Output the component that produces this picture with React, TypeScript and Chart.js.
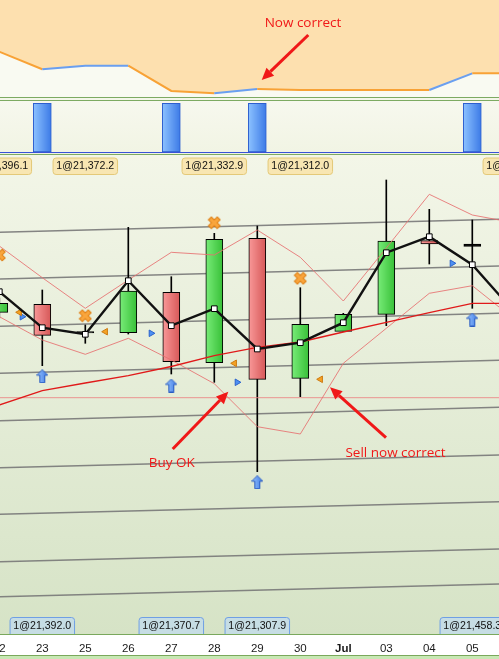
import React, { useEffect, useRef } from "react";
import { Chart, registerables } from "chart.js";
Chart.register(...registerables);

// ---------- data ----------
const dateLabels = ["22", "23", "25", "26", "27", "28", "29", "30", "Jul", "03", "04", "05", "06"];

// upper indicator pane
const topIndicator = [46.7, 28.6, 32.3, 32.3, 6.2, 3.8, 8.2, 7.2, 7.2, 7.2, 7.2, 24.4, 24.4];
const topRising = [false, true, true, false, false, true, false, false, false, false, true, false];

// position pane
const positionSize = [0, 1, 0, 0, 1, 0, 1, 0, 0, 0, 0, 1, 0];

// price bars
const opens = [21421.35, 21425.35, 21411.75, 21411.15, 21431.35, 21396.15, 21458.35, 21388.35, 21411.85, 21420.35, 21457.15, 21455.5];
const highs = [21428.5, 21432.5, 21415.0, 21463.85, 21439.15, 21460.85, 21464.5, 21433.65, 21420.85, 21487.5, 21472.85, 21467.5];
const lows = [21418.5, 21394.65, 21405.85, 21410.5, 21390.5, 21386.35, 21341.65, 21379.15, 21411.85, 21414.65, 21445.5, 21423.35];
const closes = [21425.85, 21409.85, 21411.0, 21432.0, 21396.65, 21457.85, 21387.85, 21415.35, 21420.35, 21457.0, 21455.5, 21454.3];

const closeLine = [21431.65, 21413.65, 21410.35, 21437.15, 21414.65, 21423.15, 21403.0, 21406.15, 21416.15, 21451.15, 21459.15, 21445.15, 21421.0];
const movingAverage = [21375.0, 21382.15, 21386.0, 21389.65, 21394.25, 21399.65, 21403.85, 21406.5, 21411.5, 21416.35, 21421.15, 21425.85, 21425.85];
const upperBand = [21454.5, 21438.65, 21423.35, 21437.5, 21451.35, 21450.0, 21462.5, 21448.85, 21427.0, 21453.5, 21480.35, 21470.0, 21466.0];
const lowerBand = [21419.15, 21407.5, 21400.35, 21408.35, 21397.5, 21385.65, 21364.15, 21360.5, 21395.85, 21413.35, 21430.85, 21434.65, 21417.5];

// sloped lines (value at left edge, value at right edge)
const trendLeft = [21461.35, 21438.0, 21414.35, 21390.85, 21367.15, 21343.65, 21320.35, 21296.65, 21279.15];
const trendRight = [21467.85, 21444.5, 21420.85, 21397.35, 21373.85, 21350.0, 21326.65, 21303.0, 21285.5];
const levelLine = 21378.65;

// trades
const sellIdx = [0, 2, 5, 7];
const sellMarks = [21450.0, 21419.65, 21466.15, 21438.35];
const sellExit = [21421.35, 21411.65, 21395.85, 21387.85];
const buyIdx = [1, 4, 6, 11];
const buyMarks = [21389.4, 21384.75, 21336.4, 21417.75];
const buyEntry = [21419.15, 21410.85, 21386.35, 21445.85];

const sellLabelIdx = [0, 2, 5, 7, 12];
const sellLabels = ["1@21,396.1", "1@21,372.2", "1@21,332.9", "1@21,312.0", "1@21,436.0"];
const buyLabelIdx = [1, 4, 6, 11];
const buyLabels = ["1@21,392.0", "1@21,370.7", "1@21,307.9", "1@21,458.3"];

// annotations: text, text position, arrow tail, arrow tip (data coordinates)
const topNotes = [{ text: "Now correct", tx: 7.063, ty: 76.3, ax: 7.186, ay: 63.9, bx: 6.102, by: 17.5 }];
const mainNotes = [
  { text: "Buy OK", tx: 4.009, ty: 21345.85, ax: 4.033, ay: 21353.0, bx: 5.326, by: 21381.65 },
  { text: "Sell now correct", tx: 9.214, ty: 21350.85, ax: 8.993, ay: 21358.65, bx: 7.691, by: 21383.85 },
];

// ---------- layout constants ----------
const W = 499;
const BAR_PX = 43;
const X_MIN = 0.0163;
const X_MAX = X_MIN + W / BAR_PX;
const P_MIN = 21260.5;
const P_MAX = 21500;
const MARK_OFFSET = 0.47;
const ORANGE = "#f8a236";
const BLUE = "#6a9ff0";
const RED = "#f01818";
const LABEL_FONT = '10.6px "Liberation Sans", Arial, sans-serif';
const NOTE_FONT = '13.5px "Open Sans", sans-serif';

function gradientPattern(ctx: CanvasRenderingContext2D, w: number, light: number[], dark: number[]) {
  const c = document.createElement("canvas");
  c.width = BAR_PX;
  c.height = 4;
  const g = c.getContext("2d")!;
  const left = (((-X_MIN * BAR_PX - w / 2) % BAR_PX) + BAR_PX) % BAR_PX;
  for (let col = 0; col < BAR_PX; col++) {
    const rel = (((col + 0.5 - left) % BAR_PX) + BAR_PX) % BAR_PX;
    const t = Math.min(1, rel / w);
    const rgb = light.map((l, k) => Math.round(l + (dark[k] - l) * t));
    g.fillStyle = `rgb(${rgb[0]},${rgb[1]},${rgb[2]})`;
    g.fillRect(col, 0, 1, 4);
  }
  return ctx.createPattern(c, "repeat")!;
}

function crossImage() {
  const c = document.createElement("canvas");
  c.width = 14;
  c.height = 14;
  const g = c.getContext("2d")!;
  g.translate(7, 7);
  g.rotate(Math.PI / 4);
  const a = 6.2, b = 2.1;
  g.beginPath();
  g.moveTo(-b, -a); g.lineTo(b, -a); g.lineTo(b, -b); g.lineTo(a, -b); g.lineTo(a, b); g.lineTo(b, b);
  g.lineTo(b, a); g.lineTo(-b, a); g.lineTo(-b, b); g.lineTo(-a, b); g.lineTo(-a, -b); g.lineTo(-b, -b);
  g.closePath();
  g.fillStyle = "#f9a53c";
  g.fill();
  g.strokeStyle = "#dd7d12";
  g.lineWidth = 1;
  g.stroke();
  return c;
}

function upArrowImage() {
  const c = document.createElement("canvas");
  c.width = 12;
  c.height = 14;
  const g = c.getContext("2d")!;
  const gr = g.createLinearGradient(0, 0, 12, 0);
  gr.addColorStop(0, "#9cc8ff");
  gr.addColorStop(1, "#3b78e4");
  g.beginPath();
  g.moveTo(6, 0.5); g.lineTo(11.5, 6); g.lineTo(8.5, 6); g.lineTo(8.5, 13.5); g.lineTo(3.5, 13.5); g.lineTo(3.5, 6); g.lineTo(0.5, 6);
  g.closePath();
  g.fillStyle = gr;
  g.fill();
  g.strokeStyle = "#2a5cc2";
  g.lineWidth = 1;
  g.stroke();
  return c;
}

function drawArrow(ctx: CanvasRenderingContext2D, x1: number, y1: number, x2: number, y2: number) {
  const ang = Math.atan2(y2 - y1, x2 - x1);
  const head = 12, hw = 5.5;
  const bx = x2 - head * Math.cos(ang), by = y2 - head * Math.sin(ang);
  ctx.strokeStyle = RED;
  ctx.lineWidth = 3;
  ctx.beginPath();
  ctx.moveTo(x1, y1);
  ctx.lineTo(bx, by);
  ctx.stroke();
  ctx.fillStyle = RED;
  ctx.beginPath();
  ctx.moveTo(x2, y2);
  ctx.lineTo(bx + hw * Math.sin(ang), by - hw * Math.cos(ang));
  ctx.lineTo(bx - hw * Math.sin(ang), by + hw * Math.cos(ang));
  ctx.closePath();
  ctx.fill();
}

function notesPlugin(notes: typeof mainNotes) {
  return {
    id: "notes",
    afterDatasetsDraw(chart: any) {
      const { ctx, scales } = chart;
      const x = scales.x, y = scales.y;
      ctx.save();
      notes.forEach((n) => {
        drawArrow(ctx, x.getPixelForValue(n.ax), y.getPixelForValue(n.ay), x.getPixelForValue(n.bx), y.getPixelForValue(n.by));
        ctx.fillStyle = RED;
        ctx.font = NOTE_FONT;
        ctx.textAlign = "center";
        ctx.textBaseline = "middle";
        ctx.fillText(n.text, x.getPixelForValue(n.tx), y.getPixelForValue(n.ty));
      });
      ctx.restore();
    },
  };
}

const tradeLabelsPlugin = {
  id: "tradeLabels",
  afterDatasetsDraw(chart: any) {
    const { ctx, chartArea, scales } = chart;
    const x = scales.x;
    ctx.save();
    ctx.beginPath();
    ctx.rect(chartArea.left, chartArea.top, chartArea.right - chartArea.left, chartArea.bottom - chartArea.top);
    ctx.clip();
    ctx.font = LABEL_FONT;
    ctx.textAlign = "center";
    ctx.textBaseline = "middle";
    const bw = 65.5;
    const box = (cx: number, top: number, h: number, fill: string, stroke: string, text: string, ty: number) => {
      ctx.beginPath();
      (ctx as any).roundRect(cx - bw / 2 + 0.5, top + 0.5, bw - 1, h, 3);
      ctx.fillStyle = fill;
      ctx.fill();
      ctx.strokeStyle = stroke;
      ctx.lineWidth = 1;
      ctx.stroke();
      ctx.fillStyle = "#111";
      ctx.fillText(text, cx, ty);
    };
    sellLabelIdx.forEach((i, k) => {
      box(x.getPixelForValue(i), chartArea.top + 2.5, 16.5, "#f8e6b2", "#e4c978", sellLabels[k], chartArea.top + 11.3);
    });
    buyLabelIdx.forEach((i, k) => {
      box(x.getPixelForValue(i), chartArea.bottom - 17, 20, "#c6dde4", "#6f9fe4", buyLabels[k], chartArea.bottom - 8);
    });
    ctx.restore();
  },
};

const baseOptions: any = {
  responsive: false,
  animation: false,
  devicePixelRatio: 1,
  events: [],
  layout: { padding: 0, autoPadding: false },
  plugins: { legend: { display: false }, tooltip: { enabled: false } },
};

export default function App() {
  const topRef = useRef<HTMLCanvasElement>(null);
  const midRef = useRef<HTMLCanvasElement>(null);
  const mainRef = useRef<HTMLCanvasElement>(null);

  useEffect(() => {
    document.body.style.margin = "0";
    const charts: Chart[] = [];
    const xHidden = { type: "linear", min: X_MIN, max: X_MAX, display: false, offset: false };

    // --- top indicator ---
    const topPts = topIndicator.map((v, i) => ({ x: i, y: v }));
    charts.push(
      new Chart(topRef.current!, {
        type: "line",
        data: {
          datasets: [
            {
              data: topPts,
              borderColor: ORANGE,
              borderWidth: 2,
              pointRadius: 0,
              tension: 0,
              fill: false,
              segment: { borderColor: (c: any) => (topRising[c.p0DataIndex] ? BLUE : ORANGE) },
              order: 0,
            } as any,
            {
              data: topPts,
              borderWidth: 0,
              borderColor: "rgba(0,0,0,0)",
              pointRadius: 0,
              tension: 0,
              fill: "end",
              backgroundColor: "rgb(253,224,175)",
              order: 1,
            } as any,
          ],
        },
        options: { ...baseOptions, scales: { x: xHidden, y: { display: false, min: 0, max: 100 } } } as any,
        plugins: [notesPlugin(topNotes as any)],
      })
    );

    // --- position pane ---
    const midCtx = midRef.current!.getContext("2d")!;
    const volPattern = gradientPattern(midCtx, 18, [140, 194, 255], [60, 122, 230]);
    charts.push(
      new Chart(midRef.current!, {
        type: "bar",
        data: {
          datasets: [
            {
              data: positionSize.map((v, i) => ({ x: i, y: v })).filter((d) => d.y > 0),
              backgroundColor: volPattern,
              borderColor: "#2d5fcf",
              borderWidth: 1,
              borderSkipped: false,
              barThickness: 18,
              grouped: false,
            } as any,
          ],
        },
        options: { ...baseOptions, scales: { x: xHidden, y: { display: false, min: 0, max: 1.047 } } } as any,
      })
    );

    // --- price pane ---
    const mainCtx = mainRef.current!.getContext("2d")!;
    const greenPat = gradientPattern(mainCtx, 17, [120, 236, 120], [56, 192, 56]);
    const redPat = gradientPattern(mainCtx, 17, [248, 152, 152], [214, 88, 88]);
    const pts = (arr: number[]) => arr.map((v, i) => ({ x: i, y: v }));
    const datasets: any[] = [];
    trendLeft.forEach((l, k) => {
      datasets.push({
        type: "line",
        data: [{ x: X_MIN, y: l }, { x: X_MAX, y: trendRight[k] }],
        borderColor: "rgba(120,120,120,0.9)",
        borderWidth: 1.6,
        pointRadius: 0,
        order: 7,
      });
    });
    datasets.push({
      type: "bar",
      data: lows.map((l, i) => ({ x: i, y: [l, highs[i]] })),
      backgroundColor: "#000",
      borderWidth: 0,
      barThickness: 1,
      grouped: false,
      order: 6,
    });
    datasets.push({
      type: "bar",
      data: opens.map((o, i) => ({ x: i, y: [o, closes[i]] })),
      backgroundColor: (c: any) => {
        const o = opens[c.dataIndex], cl = closes[c.dataIndex];
        if (Math.abs(cl - o) < 1.5) return "#000";
        return cl >= o ? greenPat : redPat;
      },
      borderColor: "#000",
      borderWidth: 1,
      borderSkipped: false,
      barThickness: 17,
      grouped: false,
      order: 5,
    });
    datasets.push({
      type: "line",
      data: [{ x: X_MIN, y: levelLine }, { x: X_MAX, y: levelLine }],
      borderColor: "rgba(235,130,130,0.85)",
      borderWidth: 1,
      pointRadius: 0,
      order: 4,
    });
    [upperBand, lowerBand].forEach((band) =>
      datasets.push({
        type: "line",
        data: pts(band),
        borderColor: "rgba(230,112,112,0.85)",
        borderWidth: 1,
        pointRadius: 0,
        tension: 0,
        order: 3,
      })
    );
    datasets.push({
      type: "line",
      data: pts(movingAverage),
      borderColor: "#e01a1a",
      borderWidth: 1.3,
      pointRadius: 0,
      tension: 0,
      order: 2,
    });
    const cross = crossImage();
    const arrow = upArrowImage();
    datasets.push({
      type: "line",
      showLine: false,
      data: sellIdx.map((i, k) => ({ x: i, y: sellMarks[k] })),
      pointStyle: cross,
      pointRadius: 7,
      order: 1,
    });
    datasets.push({
      type: "line",
      showLine: false,
      data: buyIdx.map((i, k) => ({ x: i, y: buyMarks[k] })),
      pointStyle: arrow,
      pointRadius: 7,
      order: 1,
    });
    datasets.push({
      type: "line",
      showLine: false,
      data: sellIdx.map((i, k) => ({ x: i + MARK_OFFSET, y: sellExit[k] })),
      pointStyle: "triangle",
      pointRotation: 270,
      pointRadius: 3.8,
      pointBackgroundColor: "#f5a223",
      pointBorderColor: "#cc7a12",
      pointBorderWidth: 1,
      order: 1,
    });
    datasets.push({
      type: "line",
      showLine: false,
      data: buyIdx.map((i, k) => ({ x: i - MARK_OFFSET, y: buyEntry[k] })),
      pointStyle: "triangle",
      pointRotation: 90,
      pointRadius: 3.8,
      pointBackgroundColor: "#4d90f2",
      pointBorderColor: "#2a62cc",
      pointBorderWidth: 1,
      order: 1,
    });
    datasets.push({
      type: "line",
      data: pts(closeLine),
      borderColor: "#111",
      borderWidth: 2.4,
      tension: 0,
      pointStyle: "rect",
      pointRadius: 4,
      pointBackgroundColor: "#fff",
      pointBorderColor: "#000",
      pointBorderWidth: 1,
      order: 0,
    });

    charts.push(
      new Chart(mainRef.current!, {
        type: "line",
        data: { datasets },
        options: {
          ...baseOptions,
          scales: {
            x: {
              type: "linear",
              min: X_MIN,
              max: X_MAX,
              offset: false,
              afterBuildTicks: (s: any) => {
                s.ticks = dateLabels.slice(0, 12).map((_, i) => ({ value: i }));
              },
              afterFit: (s: any) => {
                s.height = 25;
                s.paddingLeft = 0;
                s.paddingRight = 0;
              },
              grid: { display: false, drawTicks: false },
              border: { display: true, color: "#7aa85c", width: 1 },
              ticks: {
                autoSkip: false,
                maxRotation: 0,
                minRotation: 0,
                padding: 7.5,
                color: "#1a1a1a",
                font: (c: any) => ({
                  family: '"Liberation Sans", Arial, sans-serif',
                  size: 11.5,
                  weight: c.tick && c.tick.label === "Jul" ? "bold" : "normal",
                }),
                callback: (v: any) => dateLabels[Math.round(v)] ?? "",
              },
            },
            y: { display: false, min: P_MIN, max: P_MAX },
          },
        } as any,
        plugins: [tradeLabelsPlugin, notesPlugin(mainNotes)],
      })
    );

    return () => charts.forEach((c) => c.destroy());
  }, []);

  const abs = (top: number, h: number, bg: string): React.CSSProperties => ({
    position: "absolute",
    left: 0,
    top,
    width: W,
    height: h,
    background: bg,
  });

  return (
    <div style={{ position: "fixed", left: 0, top: 0, width: W, height: 659, overflow: "hidden", background: "#f6f8ec" }}>
      <div style={abs(0, 97, "#f9faf2")} />
      <div style={abs(97, 1, "#7daa62")} />
      <div style={abs(98, 2, "#f4f6ea")} />
      <div style={abs(100, 1, "#7daa62")} />
      <div style={abs(101, 51, "linear-gradient(#f7f8ee, #f1f4e4)")} />
      <div style={abs(152, 1, "#3a52d6")} />
      <div style={abs(153, 1, "#eef2e2")} />
      <div style={abs(154, 1, "#7daa62")} />
      <div style={abs(155, 479, "linear-gradient(#f3f6e8, #d6e3c6)")} />
      <div style={abs(634, 21, "#ffffff")} />
      <div style={abs(655, 1, "#7aa85c")} />
      <div style={abs(656, 3, "#c8e8b4")} />
      <canvas ref={topRef} width={W} height={97} style={{ position: "absolute", left: 0, top: 0 }} />
      <canvas ref={midRef} width={W} height={51} style={{ position: "absolute", left: 0, top: 101 }} />
      <canvas ref={mainRef} width={W} height={504} style={{ position: "absolute", left: 0, top: 155 }} />
    </div>
  );
}
